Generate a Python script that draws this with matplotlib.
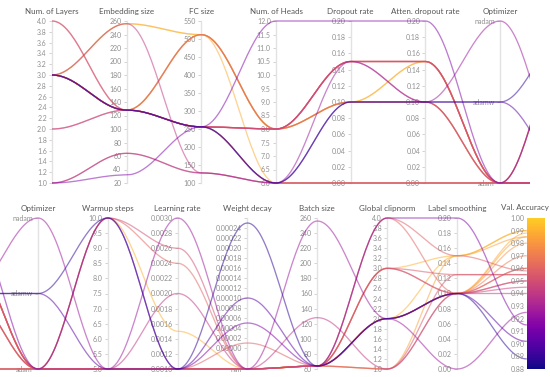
import matplotlib
matplotlib.use('Agg')

import matplotlib.pyplot as plt
import matplotlib.colors as mcolors
import matplotlib.cm as cm
import numpy as np

plt.rcParams['font.family'] = ['Lato', 'DejaVu Sans']

W, H = 550, 377
TICK_CLR = "#8f8f8f"
TITLE_CLR = "#555555"
AXIS_CLR = "#e2e2e2"

# one entry per run
layers = [3, 3, 1, 1, 4, 3, 3, 2, 3, 3, 3, 3, 3, 3, 1, 3, 4, 2, 3, 3]
emb = [128, 128, 32, 64, 128, 128, 256, 128, 128, 256, 128, 128, 128, 256, 64, 128, 128, 128, 128, 128]
fc = [256, 256, 256, 128, 256, 256, 128, 512, 256, 512, 512, 512, 256, 512, 128, 512, 256, 256, 256, 256]
heads = [6, 6, 12, 6, 8, 8, 6, 8, 8, 8, 6, 8, 6, 8, 6, 8, 8, 8, 8, 6]
dropout = [0.10, 0.10, 0.20, 0.15, 0.15, 0.15, 0.00, 0.10, 0.15, 0.10, 0.00, 0.10, 0.00, 0.10, 0.00, 0.10, 0.15, 0.15, 0.15, 0.00]
att_dropout = [0.10, 0.10, 0.20, 0.10, 0.15, 0.15, 0.00, 0.10, 0.15, 0.15, 0.00, 0.10, 0.00, 0.15, 0.00, 0.10, 0.15, 0.10, 0.15, 0.00]
optimizer = ["adamw", "adamw", "adam", "nadam", "adam", "adam", "adam", "adam", "adam", "adam",
             "adam", "adam", "adam", "adam", "adam", "adam", "adam", "adam", "adam", "adam"]
warmup = [10, 5, 10, 5, 5, 5, 5, 10, 10, 10, 5, 5, 5, 5, 5, 5, 5, 5, 5, 5]
lr = [0.0010, 0.0010, 0.0010, 0.0030, 0.0010, 0.0010, 0.0020, 0.0026, 0.0024, 0.0015,
      0.0010, 0.0010, 0.0010, 0.0010, 0.0010, 0.0010, 0.0010, 0.0010, 0.0010, 0.0010]
weight_decay = [0.00025, 0.00010, 0.00005, np.nan, 0.00001] + [np.nan] * 15
batch = [64, 64, 64, 256, 64, 64, 128, 64, 64, 64, 64, 64, 64, 64, 64, 64, 64, 64, 64, 64]
clipnorm = [2, 2, 4, 2, 4, 3, 1, 3, 4, 2, 2, 2, 2, 3, 1, 1, 2, 2, 1, 3]
label_smooth = [0.10, 0.10, 0.20, 0.00, 0.15, 0.125, 0.10, 0.10, 0.10, 0.15,
                0.10, 0.10, 0.10, 0.15, 0.10, 0.15, 0.10, 0.10, 0.125, 0.10]
val_acc = [0.888, 0.902, 0.915, 0.925, 0.958, 0.955, 0.940, 0.950, 0.960, 0.990,
           0.988, 0.985, 0.980, 0.990, 0.970, 0.985, 0.950, 0.945, 0.955, 0.960]

opt_names = ["adam", "adamw", "nadam"]
WD_TOP = 0.00026
WD_ZERO = 0.139  # fraction of the axis taken by the "nan" slot

def rng_ticks(lo, hi, step):
    return list(np.round(np.arange(lo, hi + step / 2, step), 6))

# title, values, lo, hi, ticks, fmt
specs = [
    ("Num. of Layers", layers, 1, 4, rng_ticks(1, 4, 0.2), "{:.1f}"),
    ("Embedding size", emb, 20, 260, rng_ticks(20, 260, 20), "{:.0f}"),
    ("FC size", fc, 100, 550, rng_ticks(100, 550, 50), "{:.0f}"),
    ("Num. of Heads", heads, 6, 12, rng_ticks(6, 12, 0.5), "{:.1f}"),
    ("Dropout rate", dropout, 0, 0.2, rng_ticks(0, 0.2, 0.02), "{:.2f}"),
    ("Atten. dropout rate", att_dropout, 0, 0.2, rng_ticks(0, 0.2, 0.02), "{:.2f}"),
    ("Optimizer", optimizer, 0, 2, None, None),
    ("Warmup steps", warmup, 5, 10, rng_ticks(5, 10, 0.5), "{:.1f}"),
    ("Learning rate", lr, 0.001, 0.003, rng_ticks(0.001, 0.003, 0.0002), "{:.4f}"),
    ("Weight decay", weight_decay, None, None, None, None),
    ("Batch size", batch, 60, 260, rng_ticks(60, 260, 20), "{:.0f}"),
    ("Global clipnorm", clipnorm, 1, 4, rng_ticks(1, 4, 0.2), "{:.1f}"),
    ("Label smoothing", label_smooth, 0, 0.2, rng_ticks(0, 0.2, 0.02), "{:.2f}"),
]
ACC_LO, ACC_HI = 0.88, 1.00


def normed(i, v):
    title, vals, lo, hi, _, _ = specs[i]
    if title == "Optimizer":
        return opt_names.index(v) / 2
    if title == "Weight decay":
        if np.isnan(v):
            return 0.0
        return WD_ZERO + (1 - WD_ZERO) * v / WD_TOP
    return (v - lo) / (hi - lo)


n_runs = len(val_acc)
norm_table = np.zeros((n_runs, len(specs) + 1))
for r in range(n_runs):
    for i in range(len(specs)):
        norm_table[r, i] = normed(i, specs[i][1][r])
    norm_table[r, -1] = (val_acc[r] - ACC_LO) / (ACC_HI - ACC_LO)


def smooth_path(ys, n=40):
    px, py = [], []
    t = np.linspace(0, 1, n)
    s = (1 - np.cos(np.pi * t)) / 2
    for i in range(len(ys) - 1):
        px.append(i + t)
        py.append(ys[i] + (ys[i + 1] - ys[i]) * s)
    return np.concatenate(px), np.concatenate(py)


# plasma without its pale yellow end, like the reference colour bar
cmap = mcolors.ListedColormap(plt.get_cmap("plasma")(np.linspace(0.0, 0.9, 256)))
cnorm = mcolors.Normalize(ACC_LO, ACC_HI)

fig = plt.figure(figsize=(W / 100, H / 100), dpi=100)


def add_lines(x0_px, x1_px, ytop, ybot, xmin, xmax):
    pad = 6
    span = ybot - ytop
    ax = fig.add_axes([x0_px / W, 1 - (ybot + pad) / H, (x1_px - x0_px) / W, (span + 2 * pad) / H])
    ax.set_xlim(xmin, xmax)
    ax.set_ylim(-pad / span, 1 + pad / span)
    ax.axis('off')
    ax.set_zorder(5)
    order = np.argsort(val_acc)[::-1]
    for r in order:
        px, py = smooth_path(norm_table[r])
        ax.plot(px, py, color=cmap(cnorm(val_acc[r])), lw=0.95, alpha=0.52, solid_capstyle='butt')
    return ax


def add_axis(i, xpx, ytop, ybot):
    title, vals, lo, hi, ticks, fmt = specs[i]
    ax = fig.add_axes([xpx / W, 1 - ybot / H, 0.0001, (ybot - ytop) / H])
    ax.patch.set_visible(False)
    for s in ['top', 'right', 'bottom']:
        ax.spines[s].set_visible(False)
    ax.spines['left'].set_color(AXIS_CLR)
    ax.spines['left'].set_linewidth(1.0)
    ax.set_xticks([])
    if title == "Optimizer":
        ax.set_ylim(0, 2)
        ax.set_yticks([0, 1, 2])
        ax.set_yticklabels(opt_names)
    elif title == "Weight decay":
        bottom = -WD_ZERO / (1 - WD_ZERO) * WD_TOP
        ax.set_ylim(bottom, WD_TOP)
        wt = rng_ticks(0, 0.00026, 0.00002)
        ax.set_yticks([bottom] + wt)
        ax.set_yticklabels(["nan"] + ["{:.5f}".format(v) for v in wt[:-1]] + [""])
    else:
        ax.set_ylim(lo, hi)
        ax.set_yticks(ticks)
        ax.set_yticklabels([fmt.format(v) for v in ticks])
    ax.tick_params(axis='y', length=2.5, width=0.6, color="#cccccc", labelsize=5, labelcolor=TICK_CLR, pad=1.2)
    ax.set_title(title, fontsize=5.8, color=TITLE_CLR, pad=5)


# top row
T_TOP, T_BOT = 21, 183
T_X0, T_STEP = 52, 74.67
add_lines(T_X0, T_X0 + 6.4 * T_STEP, T_TOP, T_BOT, 0, 6.4)
for i in range(7):
    add_axis(i, T_X0 + i * T_STEP, T_TOP, T_BOT)

# bottom row
B_TOP, B_BOT = 218, 369
B_X0, B_STEP = 38, 69.83
xmin_b = 6 - B_X0 / B_STEP
add_lines(0, B_X0 + 7 * B_STEP, B_TOP, B_BOT, xmin_b, 13)
for i in range(6, len(specs)):
    add_axis(i, B_X0 + (i - 6) * B_STEP, B_TOP, B_BOT)

# accuracy colour bar
cax = fig.add_axes([(B_X0 + 7 * B_STEP) / W, 1 - B_BOT / H, 18 / W, (B_BOT - B_TOP) / H])
cb = fig.colorbar(cm.ScalarMappable(norm=cnorm, cmap=cmap), cax=cax)
cb.outline.set_visible(False)
cax.yaxis.set_ticks_position('left')
acc_ticks = rng_ticks(0.88, 1.0, 0.01)
cb.set_ticks(acc_ticks)
cb.set_ticklabels(["{:.2f}".format(v) for v in acc_ticks])
cax.tick_params(axis='y', length=0, labelsize=5, labelcolor=TICK_CLR, pad=1.5)
cax.set_zorder(6)
fig.text(525 / W, 1 - 207 / H, "Val. Accuracy", fontsize=5.8, color=TITLE_CLR, ha='center', va='center')

plt.savefig("out.png", dpi=100)
